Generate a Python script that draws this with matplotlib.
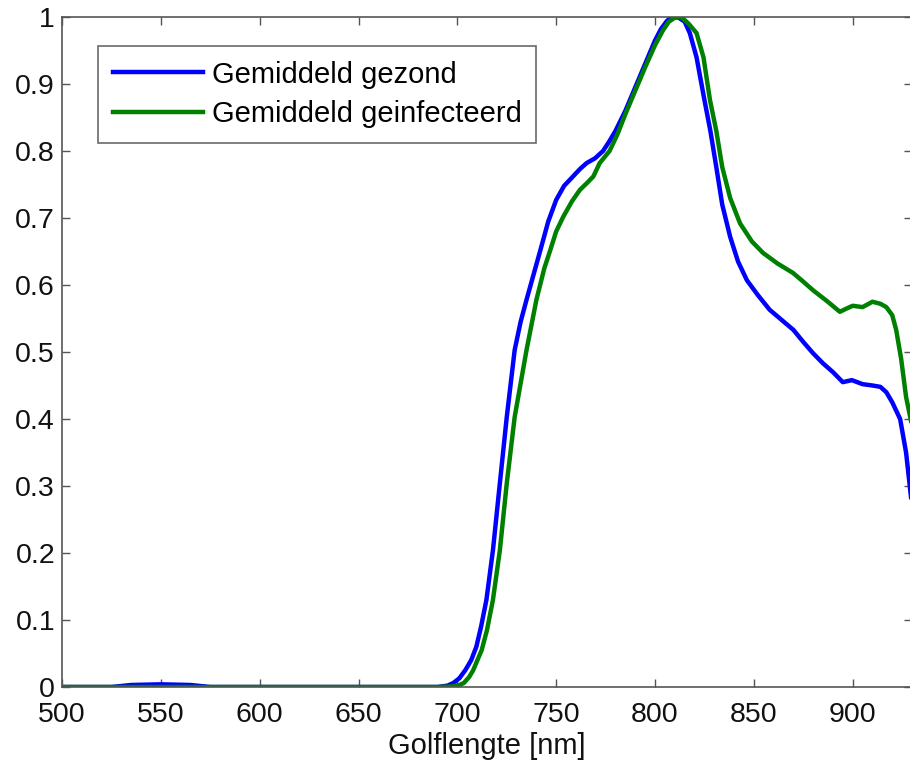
import numpy as np
import matplotlib
matplotlib.use('Agg')
import matplotlib.pyplot as plt

plt.rcParams['font.family'] = ['Liberation Sans', 'DejaVu Sans']

# Gemiddeld gezond (blauw)
wl_gezond = [500, 525, 535, 550, 565, 575, 690, 695, 698, 701, 704, 707, 709.6, 712, 714.7, 718, 721.5,
             725, 729, 732, 735, 738.5, 742, 746, 750, 754, 758.5, 762, 765.4, 769.6, 773.7, 777, 780,
             785, 790, 795, 800, 803, 806, 808, 810, 812, 815, 817.6, 821, 825, 828, 831, 834, 838,
             842, 846.5, 852, 858, 864, 870, 875, 880, 885, 890, 895, 899.6, 905, 910, 914, 917,
             920, 924, 927, 930]
gezond = [0, 0, 0.003, 0.004, 0.003, 0, 0, 0.002, 0.006, 0.013, 0.025, 0.04, 0.06, 0.09, 0.13, 0.204, 0.304,
          0.403, 0.503, 0.545, 0.578, 0.615, 0.652, 0.695, 0.727, 0.748, 0.762, 0.773, 0.782, 0.789, 0.80, 0.815, 0.83,
          0.86, 0.895, 0.93, 0.965, 0.982, 0.994, 0.999, 1.0, 0.999, 0.993, 0.976, 0.94, 0.876, 0.83, 0.776, 0.72, 0.672,
          0.635, 0.607, 0.585, 0.563, 0.548, 0.533, 0.515, 0.498, 0.483, 0.47, 0.455, 0.458, 0.452, 0.45, 0.448, 0.44,
          0.425, 0.40, 0.35, 0.27]

# Gemiddeld geinfecteerd (groen)
wl_inf = [500, 690, 698, 701, 703.3, 706, 708, 712.3, 715, 718, 721.5, 725, 729, 735, 740, 744, 747,
          750, 753.6, 758, 762, 765.5, 768.8, 772, 777, 781, 785, 790, 795, 800, 804, 807, 810, 812,
          814, 817, 821, 824.5, 827.8, 831, 834, 838, 843, 849, 854.6, 862, 869.8, 875, 880, 887,
          893.5, 897, 900, 905, 910, 914, 917, 920, 922, 924.5, 927, 930]
geinfecteerd = [0, 0, 0.001, 0.003, 0.006, 0.015, 0.025, 0.055, 0.085, 0.13, 0.204, 0.304, 0.403, 0.503, 0.578, 0.625, 0.652,
                0.68, 0.702, 0.725, 0.742, 0.752, 0.762, 0.782, 0.80, 0.825, 0.855, 0.89, 0.925, 0.958, 0.98, 0.993, 0.999, 1.0,
                0.998, 0.99, 0.976, 0.94, 0.876, 0.83, 0.776, 0.73, 0.692, 0.665, 0.648, 0.632, 0.618, 0.605, 0.592, 0.576,
                0.560, 0.565, 0.569, 0.567, 0.575, 0.572, 0.567, 0.555, 0.533, 0.49, 0.433, 0.39]

xticks = np.arange(500, 901, 50)
yticks = np.round(np.arange(0, 1.01, 0.1), 1)
ylabels = ['0' if v == 0 else '1' if v == 1 else '%.1f' % v for v in yticks]

fig = plt.figure(figsize=(9.1, 7.65), dpi=100)
ax = fig.add_axes([62/910, 78/765, 850/910, 670/765])

ax.plot(wl_gezond, gezond, color='#0000ff', lw=3.2, label='Gemiddeld gezond')
ax.plot(wl_inf, geinfecteerd, color='#008000', lw=3.2, label='Gemiddeld geinfecteerd')

ax.set_xlim(500, 930)
ax.set_ylim(0, 1)
ax.set_xticks(xticks)
ax.set_yticks(yticks)
ax.set_yticklabels(ylabels)
ax.tick_params(direction='in', length=6, width=1, colors='#555555', labelcolor='#111111',
               labelsize=20.5, top=True, right=True)
ax.tick_params(axis='x', pad=11)
ax.tick_params(axis='y', pad=5)
for s in ax.spines.values():
    s.set_color('#555555')
    s.set_linewidth(1.2)
ax.set_xlabel('Golflengte [nm]', fontsize=21, color='#111111', labelpad=3)

leg = ax.legend(loc='upper left', bbox_to_anchor=(36/850, 1 - 29/670), fontsize=21,
                frameon=True, fancybox=False, handlelength=3.1, handletextpad=0.3,
                borderpad=0.5, labelspacing=0.4, borderaxespad=0)
leg.get_frame().set_edgecolor('#444444')
leg.get_frame().set_linewidth(1.2)

fig.savefig('out.png', dpi=100)
